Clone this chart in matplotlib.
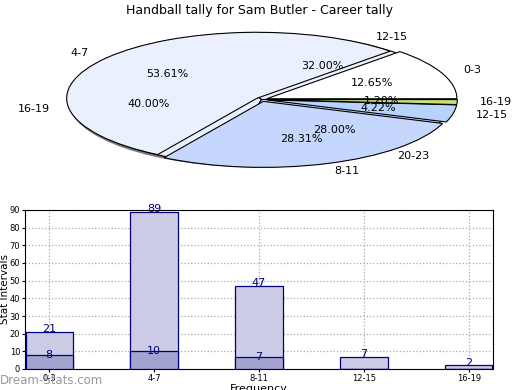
import matplotlib
matplotlib.use("Agg")
import matplotlib.pyplot as plt
from matplotlib.patches import Ellipse

# ---- data ----
intervals = ["0-3", "4-7", "8-11", "12-15", "16-19"]
tally = [21, 89, 47, 7, 2]           # career tally (lighter bars / main pie)
tally2 = [8, 10, 7, 0, 0]            # second series (darker bars)
pie2_labels = ["12-15", "16-19", "20-23"]
pie2_values = [8, 10, 7]

pie_colors = ["#ffffff", "#eaf0fd", "#c5d7fc", "#b5d3fc", "#c8e07a"]
pie2_colors = ["#eaf0fd", "#eaf0fd", "#c5d7fc"]
NAVY = "#000080"


def main():
    fig = plt.figure(figsize=(5.2, 3.9), dpi=100)
    fig.text(0.5, 0.973, "Handball tally for Sam Butler - Career tally",
             ha="center", va="center", fontsize=9)

    # ---- pie (squashed into an ellipse by the axes shape) ----
    ax = fig.add_axes([16 / 520, 1 - 182 / 390, 487 / 520, 165 / 390])
    ax.add_patch(Ellipse((-0.012, -0.02), 2.0, 2.0, color="#777777", zorder=0))
    ax.pie(pie2_values, labels=pie2_labels, colors=pie2_colors,
           autopct="%.2f%%", pctdistance=0.6, labeldistance=1.12,
           startangle=0, counterclock=True,
           wedgeprops=dict(edgecolor="black", linewidth=0.8),
           textprops=dict(fontsize=8))
    ax.pie(tally, labels=intervals, colors=pie_colors,
           autopct="%.2f%%", pctdistance=0.6, labeldistance=1.12,
           startangle=0, counterclock=True, explode=[0.03] * 5,
           wedgeprops=dict(edgecolor="black", linewidth=0.8),
           textprops=dict(fontsize=8))
    ax.set_aspect("auto")
    ax.set_xlim(-1.29, 1.27)
    ax.set_ylim(-1.25, 1.25)
    ax.axis("off")

    # ---- bars ----
    bx = fig.add_axes([25 / 520, 1 - 369 / 390, 468 / 520, 159 / 390])
    xs = range(len(intervals))
    bx.bar(xs, tally, width=0.45, color="#ccccE6", edgecolor=NAVY,
           linewidth=0.9, zorder=2)
    bx.bar(xs, tally2, width=0.45, color="#a3a3cf", edgecolor=NAVY,
           linewidth=0.9, zorder=3)
    for x, v in zip(xs, tally):
        bx.text(x, v + 1.5, str(v), ha="center", va="center",
                color=NAVY, fontsize=8, zorder=5)
    for x, v in zip(xs, tally2):
        if v:
            bx.text(x, v, str(v), ha="center", va="center",
                    color=NAVY, fontsize=8, zorder=5)
    bx.set_xlim(-0.23, 4.23)
    bx.set_ylim(0, 90)
    bx.set_yticks(range(0, 91, 10))
    bx.set_xticks(list(xs))
    bx.set_xticklabels(intervals)
    bx.tick_params(labelsize=6, length=2, pad=1.5)
    bx.grid(True, linestyle=":", color="#aaaaaa", linewidth=0.9, zorder=0)
    bx.set_axisbelow(True)
    bx.set_ylabel("Stat Intervals", fontsize=7.5)
    bx.yaxis.set_label_coords(-0.032, 0.5)
    bx.set_xlabel("Frequency", fontsize=8, labelpad=1)

    fig.text(0.0, 0.025, "Dream-Stats.com", ha="left", va="center",
             fontsize=8.5, color="#999999")
    fig.savefig("out.png", dpi=100)


if __name__ == "__main__":
    main()
